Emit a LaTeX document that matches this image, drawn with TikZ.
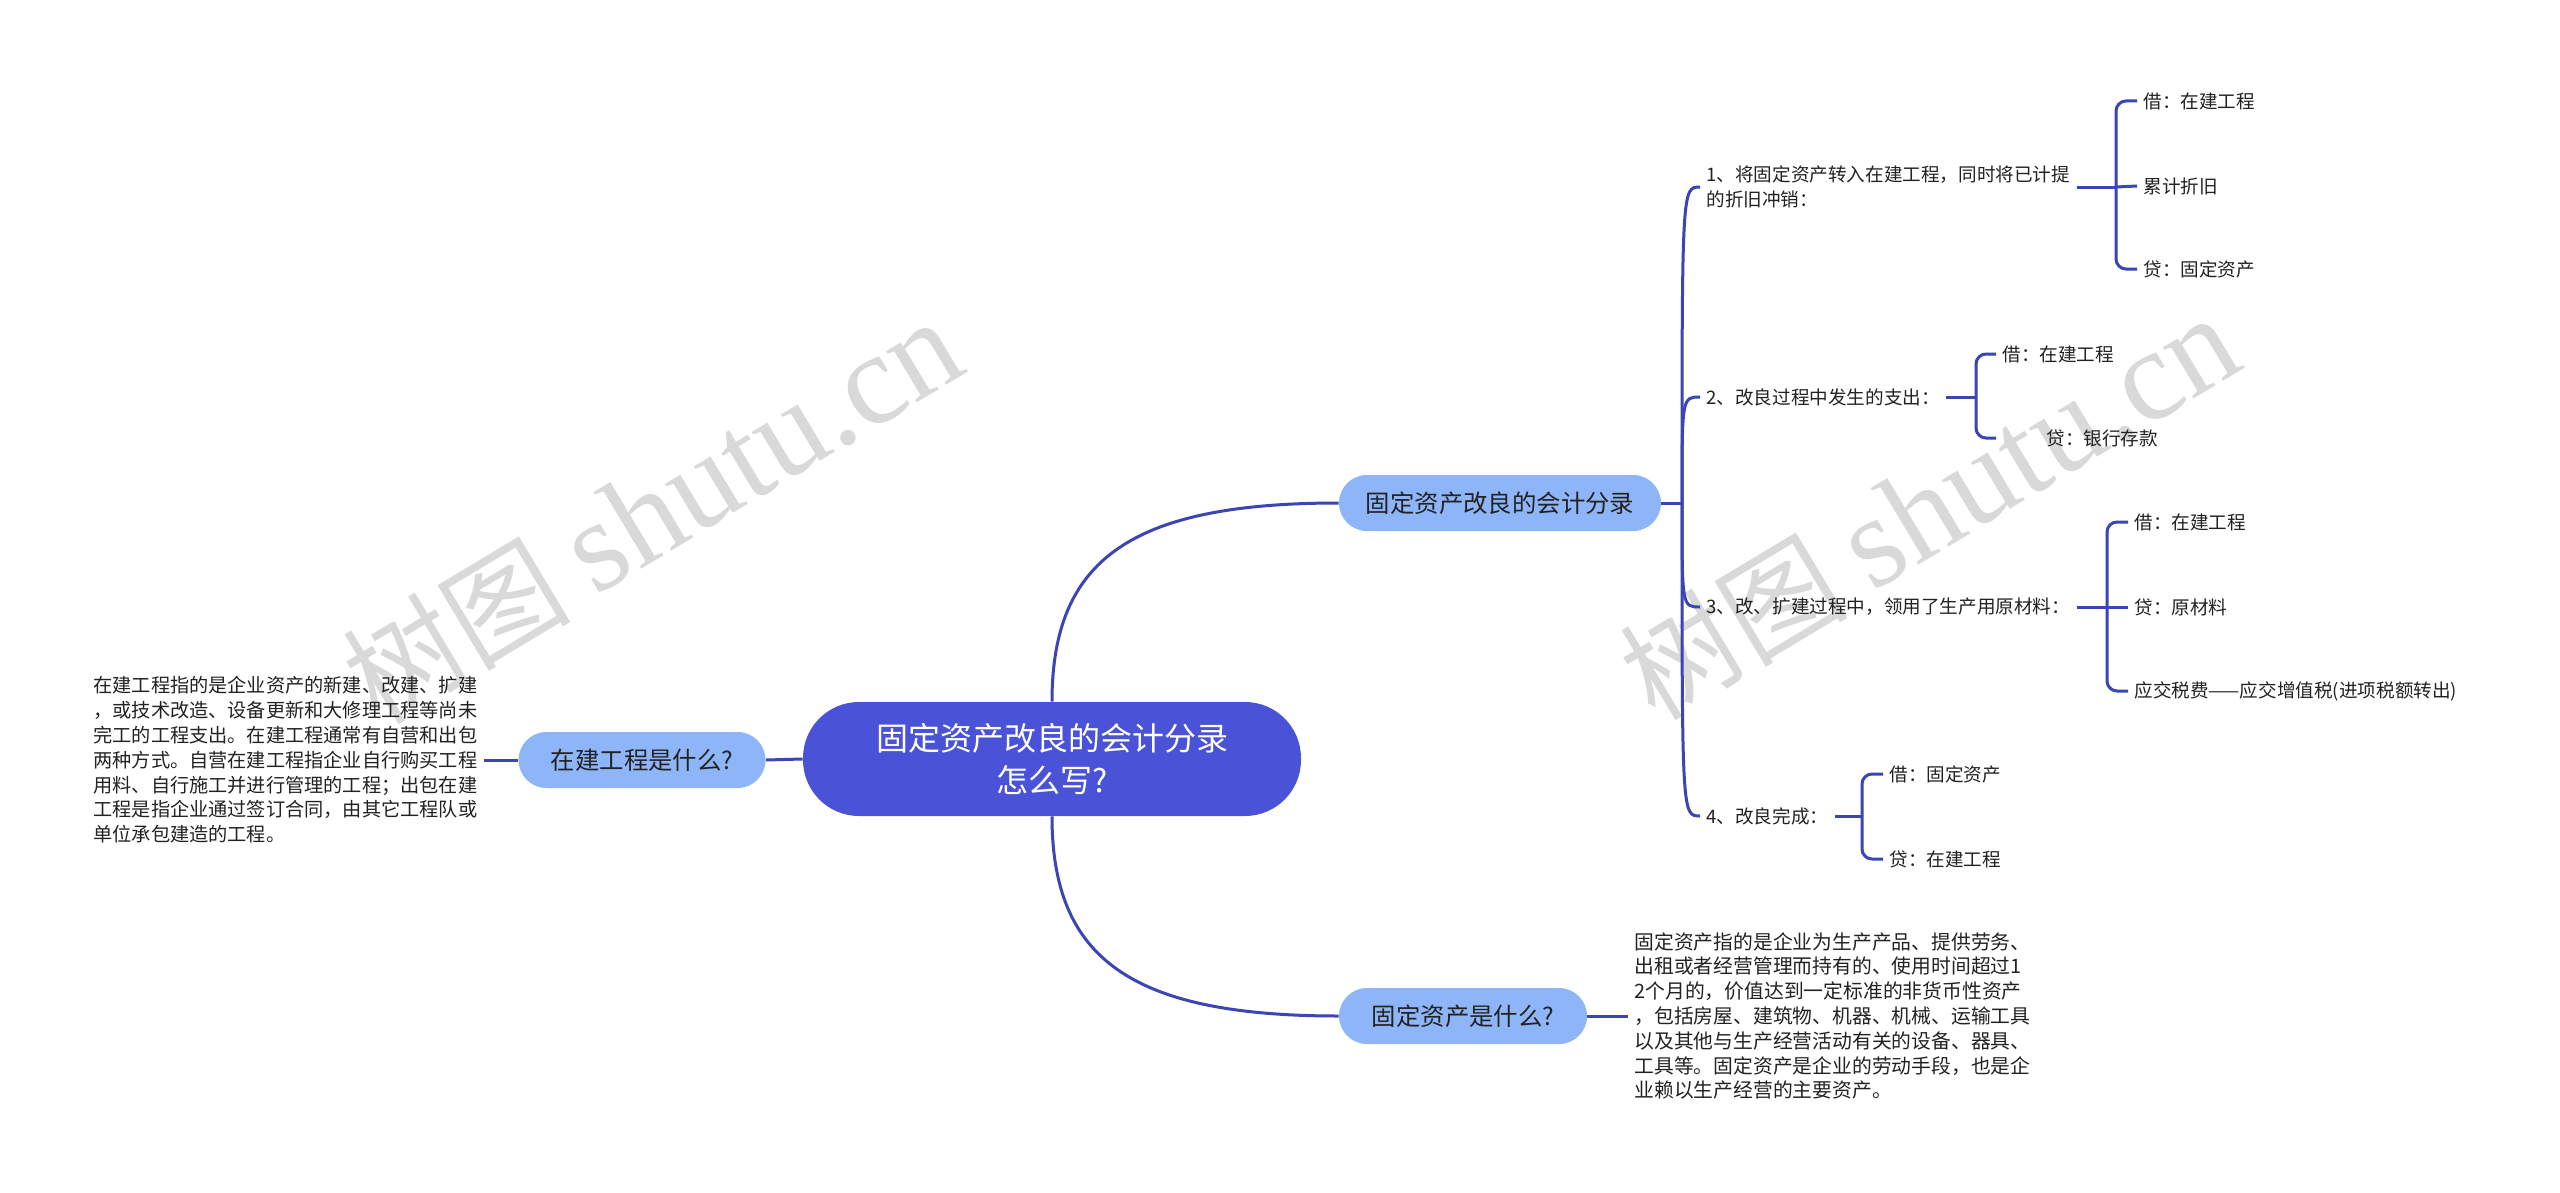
\documentclass[tikz,border=0pt]{standalone}
\usepackage{fontspec}
\setmainfont{Noto Sans CJK SC}
\newfontfamily\wmfont{Liberation Serif}
\usepackage{amsmath,amsfonts,graphicx,tikz}
\definecolor{linec}{HTML}{3B45B3}
\definecolor{rootc}{HTML}{4A53D8}
\definecolor{subc}{HTML}{8EB5F7}
\definecolor{wmc}{HTML}{D9D9D9}
\definecolor{txtc}{HTML}{222222}

\begin{document}
\begin{tikzpicture}[x=0.5pt,y=-0.5pt]
\tikzstyle{lnk}=[draw=linec,line width=1.5pt];
\tikzstyle{brk}=[lnk,rounded corners=5pt];
\tikzstyle{root}=[fill=rootc,text=white,rounded corners=28pt,minimum width=249pt,minimum height=57pt,align=center,font=\fontsize{16}{21}\selectfont];
\tikzstyle{sub}=[fill=subc,text=txtc,rounded corners=14pt,minimum height=28pt,font=\fontsize{12.2}{14}\selectfont];
\tikzstyle{txt}=[anchor=west,text=txtc,align=left,inner xsep=3pt,font=\fontsize{9.3}{12.2}\selectfont];
\tikzstyle{para}=[txt,font=\fontsize{9.6}{12.4}\selectfont];
\tikzstyle{wm}=[text=wmc,rotate=31,font=\fontsize{57}{57}\selectfont];
\useasboundingbox[fill=white] (0,0) rectangle (2560,1193);

\node[wm] (W1) at (652,512) {树图 {\wmfont\fontsize{65}{65}\selectfont shutu.cn}};
\node[wm] (W2) at (1929,508) {树图 {\wmfont\fontsize{65}{65}\selectfont shutu.cn}};

\node[root] (R) at (1052,759) {固定资产改良的会计分录\\怎么写?};
\node[sub,minimum width=161pt] (S1) at (1500,503) {固定资产改良的会计分录};
\node[sub,minimum width=124pt] (S2) at (1463,1016) {固定资产是什么?};
\node[sub,minimum width=123.5pt] (S3) at (642,760) {在建工程是什么?};

\node[para] (P3) at (87,760) {在建工程指的是企业资产的新建、改建、扩建\\，或技术改造、设备更新和大修理工程等尚未\\完工的工程支出。在建工程通常有自营和出包\\两种方式。自营在建工程指企业自行购买工程\\用料、自行施工并进行管理的工程；出包在建\\工程是指企业通过签订合同，由其它工程队或\\单位承包建造的工程。};
\node[para,font=\fontsize{9.9}{12.4}\selectfont] (P2) at (1628,1016) {固定资产指的是企业为生产产品、提供劳务、\\出租或者经营管理而持有的、使用时间超过1\\2个月的，价值达到一定标准的非货币性资产\\，包括房屋、建筑物、机器、机械、运输工具\\以及其他与生产经营活动有关的设备、器具、\\工具等。固定资产是企业的劳动手段，也是企\\业赖以生产经营的主要资产。};

\node[txt] (C1) at (1700,187) {1、将固定资产转入在建工程，同时将已计提\\的折旧冲销：};
\node[txt] (C2) at (1700,397) {2、改良过程中发生的支出：};
\node[txt] (C3) at (1700,607) {3、改、扩建过程中，领用了生产用原材料：};
\node[txt] (C4) at (1700,816) {4、改良完成：};

\node[txt] (G11) at (2137,101) {借：在建工程};
\node[txt] (G12) at (2137,186) {累计折旧};
\node[txt] (G13) at (2137,269) {贷：固定资产};
\node[txt] (G21) at (1996,354) {借：在建工程};
\node[txt] (G22) at (1996,438) {\hspace*{22pt}贷：银行存款};
\node[txt] (G31) at (2128,522) {借：在建工程};
\node[txt] (G32) at (2128,607) {贷：原材料};
\node[txt] (G33) at (2128,691) {应交税费——应交增值税(进项税额转出)};
\node[txt] (G41) at (1883,774) {借：固定资产};
\node[txt] (G42) at (1883,859) {贷：在建工程};

\draw[lnk] (R.north) .. controls (1052,560) and (1130,503) .. (S1.west);
\draw[lnk] (R.south) .. controls (1052,958) and (1130,1016) .. (S2.west);
\draw[lnk] (R.west) -- (S3.east);
\draw[lnk] (S3.west) -- (P3.east);
\draw[lnk] (S2.east) -- (P2.west);

\coordinate (J) at (1682,503);
\draw[lnk] (S1.east) -- (J);
\foreach \c in {C1,C2,C3,C4}
  \draw[lnk] (J) .. controls (J |- \c.west) .. (\c.west);

\coordinate (B1) at (2116,187);
\coordinate (B2) at (1976,397);
\coordinate (B3) at (2107,607);
\coordinate (B4) at (1862,816);
\draw[lnk] (C1.east) -- (B1);
\draw[lnk] (C2.east) -- (B2);
\draw[lnk] (C3.east) -- (B3);
\draw[lnk] (C4.east) -- (B4);
\draw[brk] (B1) |- (G11.west);
\draw[lnk] (B1) -- (G12.west);
\draw[brk] (B1) |- (G13.west);
\draw[brk] (B2) |- (G21.west);
\draw[brk] (B2) |- (G22.west);
\draw[brk] (B3) |- (G31.west);
\draw[lnk] (B3) -- (G32.west);
\draw[brk] (B3) |- (G33.west);
\draw[brk] (B4) |- (G41.west);
\draw[brk] (B4) |- (G42.west);
\end{tikzpicture}
\end{document}
